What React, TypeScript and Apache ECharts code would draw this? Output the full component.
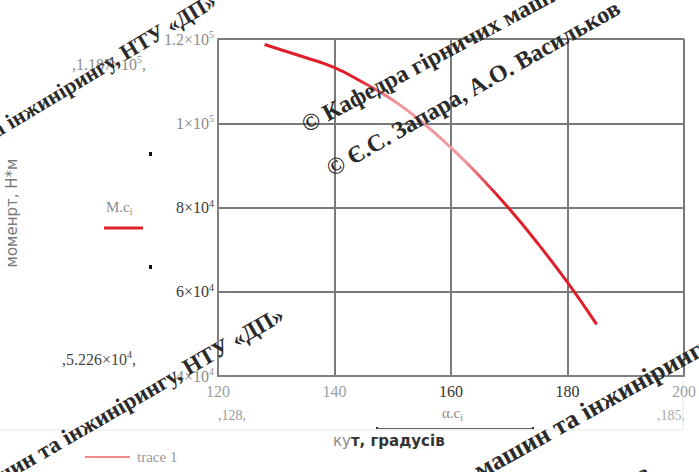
import React, { useEffect, useRef } from "react";
import * as echarts from "echarts";

// Data
const alphaDeg = [128, 130, 135, 140, 145, 150, 155, 160, 165, 170, 175, 180, 185];
const momentNm = [118700, 117800, 115600, 113200, 109600, 105500, 100300, 94200, 87300, 79700, 71300, 62200, 52260];

const xTicks = [120, 140, 160, 180, 200];
const yTicks = [40000, 60000, 80000, 100000, 120000];
const yTickMantissa = ["4", "6", "8", "1", "1.2"];
const yTickExponent = ["4", "4", "4", "5", "5"];

const xAxisTitle = ["ку", "т, градусів"];
const yAxisTitle = "моменрт, Н*м";
const legendName = "trace 1";
const watermarkLine1 = "© Кафедра гірничих машин та інжинірингу, НТУ «ДП»";
const watermarkLine2 = "© Є.С. Запара, А.О. Васильков";
const watermarkTail = "машин та інжинірингу, НТУ «ДП»";

const darkX = [160, 180];
const darkY = [60000, 80000];

export default function App() {
  const ref = useRef<HTMLDivElement>(null);
  useEffect(() => {
    if (!ref.current) return;
    const chart = echarts.init(ref.current, null, { renderer: "svg", width: 699, height: 472 });
    const serif = "'Liberation Serif', 'Times New Roman', serif";
    const sans = "'DejaVu Sans', sans-serif";
    const wm = (text: string, x: number, y: number, align: string, deg: number, size: number) => ({
      type: "text",
      x,
      y,
      rotation: (deg * Math.PI) / 180,
      z: 100,
      silent: true,
      style: {
        text,
        font: `bold ${size}px 'Liberation Serif', serif`,
        fill: "#2a2a2a",
        align,
        verticalAlign: "middle",
      },
    });
    // rich styles for axis labels (ECharts label options use "color")
    const axisSupRich = {
      m: { fontSize: 16, fontFamily: serif, color: "#8a8a8a" },
      md: { fontSize: 16, fontFamily: serif, color: "#3a3a3a" },
      e: { fontSize: 10, fontFamily: serif, color: "#8a8a8a", padding: [0, 0, 9, 0] },
      ed: { fontSize: 10, fontFamily: serif, color: "#3a3a3a", padding: [0, 0, 9, 0] },
    };
    // rich styles for graphic texts (zrender uses "fill")
    const gSupRich = {
      m: { fontSize: 16, fontFamily: serif, fill: "#8a8a8a" },
      md: { fontSize: 16, fontFamily: serif, fill: "#444" },
      e: { fontSize: 10, fontFamily: serif, fill: "#8a8a8a", padding: [0, 0, 9, 0] },
      ed: { fontSize: 10, fontFamily: serif, fill: "#444", padding: [0, 0, 9, 0] },
    };
    const gSubRich = {
      m: { fontSize: 15, fontFamily: serif, fill: "#8a8a8a" },
      s: { fontSize: 10, fontFamily: serif, fill: "#8a8a8a", padding: [9, 0, 0, 0] },
    };
    const option: any = {
      animation: false,
      backgroundColor: "#ffffff",
      grid: { left: 218, right: 15, top: 39, bottom: 96 },
      xAxis: {
        type: "value",
        min: 120,
        max: 200,
        interval: 20,
        axisLine: { show: true, lineStyle: { color: "#808080", width: 2 } },
        axisTick: { show: false },
        splitLine: { show: true, lineStyle: { color: "#7a7a7a", width: 2 } },
        axisLabel: {
          margin: 7,
          formatter: (v: number) => (xTicks.includes(v) ? (darkX.includes(v) ? `{d|${v}}` : `{l|${v}}`) : ""),
          rich: {
            d: { fontSize: 16, fontFamily: serif, color: "#333" },
            l: { fontSize: 16, fontFamily: serif, color: "#a0a0a0" },
          },
        },
      },
      yAxis: {
        type: "value",
        min: 40000,
        max: 120000,
        interval: 20000,
        axisLine: { show: true, lineStyle: { color: "#808080", width: 2 } },
        axisTick: { show: false },
        splitLine: { show: true, lineStyle: { color: "#7a7a7a", width: 2 } },
        axisLabel: {
          margin: 4,
          formatter: (v: number) => {
            const i = yTicks.indexOf(v);
            if (i < 0) return "";
            const d = darkY.includes(v);
            return `{${d ? "md" : "m"}|${yTickMantissa[i]}×10}{${d ? "ed" : "e"}|${yTickExponent[i]}}`;
          },
          rich: axisSupRich,
        },
      },
      series: [
        {
          type: "line",
          name: legendName,
          data: alphaDeg.map((a, i) => [a, momentNm[i]]),
          smooth: true,
          symbol: "none",
          lineStyle: {
            width: 3,
            color: new echarts.graphic.LinearGradient(0, 0, 1, 0, [
              { offset: 0, color: "#e01f2b" },
              { offset: 0.28, color: "#e01f2b" },
              { offset: 0.4, color: "#f09aa0" },
              { offset: 0.6, color: "#f09aa0" },
              { offset: 0.7, color: "#e01f2b" },
              { offset: 1, color: "#e01f2b" },
            ]),
          },
        },
      ],
      graphic: [
        {
          type: "text",
          x: 12,
          y: 213,
          rotation: Math.PI / 2,
          style: { text: yAxisTitle, font: `15px ${sans}`, fill: "#7a7a7a", align: "center", verticalAlign: "middle" },
        },
        {
          type: "text",
          x: 72,
          y: 64,
          style: { text: "{m|,1.187×10}{e|5}{m|,}", rich: gSupRich, verticalAlign: "middle" },
        },
        {
          type: "text",
          x: 62,
          y: 359,
          style: { text: "{md|,5.226×10}{ed|4}{md|,}", rich: gSupRich, verticalAlign: "middle" },
        },
        {
          type: "text",
          x: 106,
          y: 207,
          style: { text: "{m|M.c}{s|i}", rich: gSubRich, verticalAlign: "middle" },
        },
        { type: "line", shape: { x1: 104, y1: 228, x2: 143, y2: 228 }, style: { stroke: "#e0242a", lineWidth: 3 } },
        { type: "rect", shape: { x: 149, y: 152, width: 3, height: 4 }, style: { fill: "#111" } },
        { type: "rect", shape: { x: 149, y: 265, width: 3, height: 4 }, style: { fill: "#111" } },
        {
          type: "text",
          x: 218,
          y: 415,
          style: { text: `,${alphaDeg[0]},`, font: `14px ${serif}`, fill: "#999", verticalAlign: "middle" },
        },
        {
          type: "text",
          x: 657,
          y: 415,
          style: { text: `,${alphaDeg[alphaDeg.length - 1]},`, font: `14px ${serif}`, fill: "#aaa", verticalAlign: "middle" },
        },
        {
          type: "text",
          x: 442,
          y: 413,
          style: { text: "{m|α.c}{s|i}", rich: gSubRich, verticalAlign: "middle" },
        },
        { type: "line", shape: { x1: 0, y1: 430, x2: 683, y2: 430 }, style: { stroke: "#e4e4e4", lineWidth: 1 } },
        { type: "line", shape: { x1: 683, y1: 380, x2: 683, y2: 430 }, style: { stroke: "#e4e4e4", lineWidth: 1 } },
        { type: "line", shape: { x1: 377, y1: 428.5, x2: 533, y2: 428.5 }, style: { stroke: "#666", lineWidth: 1 } },
        { type: "rect", shape: { x: 376, y: 427, width: 2, height: 2 }, style: { fill: "#333" } },
        { type: "rect", shape: { x: 532, y: 427, width: 2, height: 2 }, style: { fill: "#333" } },
        {
          type: "text",
          x: 333,
          y: 441,
          style: {
            text: `{a|${xAxisTitle[0]}}{b|${xAxisTitle[1]}}`,
            rich: {
              a: { fontSize: 15, fontFamily: sans, fill: "#8a8a8a" },
              b: { fontSize: 15, fontFamily: sans, fill: "#333", fontWeight: "bold" },
            },
            verticalAlign: "middle",
          },
        },
        { type: "line", shape: { x1: 85, y1: 457, x2: 130, y2: 457 }, style: { stroke: "#f08a8a", lineWidth: 2 } },
        {
          type: "text",
          x: 137,
          y: 457,
          style: { text: legendName, font: `15px ${serif}`, fill: "#999", verticalAlign: "middle" },
        },
        wm(watermarkLine1, 214, -1, "right", 31, 22),
        wm(watermarkLine1, 303, 126, "left", 28, 24),
        wm(watermarkLine2, 328, 170, "left", 29.5, 24),
        wm(watermarkLine1, 282, 313, "right", 30, 23),
        wm(watermarkTail, 476, 472, "left", 29, 26),
        wm(watermarkLine2, 648, 470, "right", 30, 24),
      ],
    };
    chart.setOption(option);
    return () => chart.dispose();
  }, []);
  return <div ref={ref} style={{ position: "fixed", left: 0, top: 0, width: 699, height: 472 }} />;
}
